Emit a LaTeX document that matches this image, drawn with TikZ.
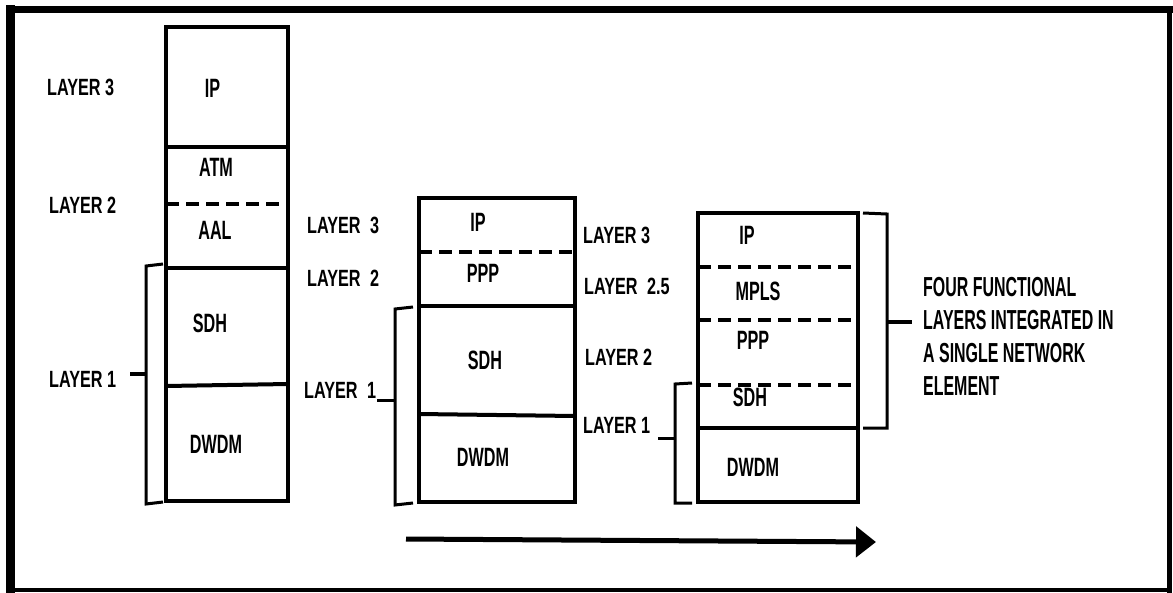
\documentclass[tikz,border=0pt]{standalone}
\usepackage{fontspec}
\setmainfont{Liberation Sans}
\newfontfamily\layerfont[FakeStretch=0.69]{Liberation Sans}
\newfontfamily\stackfont[FakeStretch=0.61]{Liberation Sans}
\newfontfamily\notefont[FakeStretch=0.58]{Liberation Sans}
\usetikzlibrary{arrows.meta}
\begin{document}
\begin{tikzpicture}[x=1pt,y=-1pt,
  lbl/.style={inner sep=0pt,font=\layerfont\fontsize{23.5}{30}\selectfont\bfseries},
  stk/.style={inner sep=0pt,font=\stackfont\fontsize{26.5}{30}\selectfont\bfseries},
  boxline/.style={line width=4pt},
  dashline/.style={line width=4pt,dash pattern=on 13pt off 7pt},
  brk/.style={line width=3pt},
  frame/.style={line cap=rect}]
\useasboundingbox (0,0) rectangle (1173,592);
% outer frame
\draw[frame,line width=9pt] (10.5,590) -- (10.5,9.5);
\draw[frame,line width=7pt] (10.5,9.5) -- (1169.5,9.5);
\draw[frame,line width=5pt] (1169.5,9.5) -- (1169.5,590);
\draw[frame,line width=4.5pt] (1169.5,590) -- (10.5,590);

% ---------- stack 1 ----------
\draw[boxline] (166,27) rectangle (288,501);
\draw[boxline] (166,147) -- (288,147);
\draw[dashline] (166,204) -- (288,204);
\draw[boxline] (166,268) -- (288,268);
\draw[boxline] (166,386) -- (288,384);
\node[stk] (s1ip) at (212.5,88) {IP};
\node[stk] (s1atm) at (216,167) {ATM};
\node[stk] (s1aal) at (215,230) {AAL};
\node[stk] (s1sdh) at (210,323) {SDH};
\node[stk] (s1dwdm) at (216,444) {DWDM};
\node[lbl,anchor=west] (l1a) at (47,87) {LAYER 3};
\node[lbl,anchor=west] (l1b) at (49,205) {LAYER 2};
\node[lbl,anchor=west] (l1c) at (49,379) {LAYER 1};
\draw[brk] (163,264) -- (146,266) -- (146,504) -- (163,502);
\draw[line width=4pt] (130,374) -- (146,374);

% ---------- stack 2 ----------
\draw[boxline] (419,198) rectangle (575,502);
\draw[dashline] (419,252) -- (575,252);
\draw[boxline] (419,306) -- (575,306);
\draw[boxline] (419,414) -- (575,416);
\node[stk] (s2ip) at (478,222) {IP};
\node[stk] (s2ppp) at (483,273) {PPP};
\node[stk] (s2sdh) at (485,360) {SDH};
\node[stk] (s2dwdm) at (483,457) {DWDM};
\node[lbl,anchor=west] (l2a) at (307,225) {LAYER\hspace{0.4em}3};
\node[lbl,anchor=west] (l2b) at (307,278) {LAYER\hspace{0.4em}2};
\node[lbl,anchor=west] (l2c) at (304,390) {LAYER\hspace{0.4em}1};
\draw[brk] (413,307) -- (395,309) -- (395,505) -- (413,503);
\draw[line width=3pt] (377,400) -- (395,400);
% right labels of stack 2
\node[lbl,anchor=west] (r2a) at (583,235) {LAYER 3};
\node[lbl,anchor=west] (r2b) at (584,286) {LAYER\hspace{0.4em}2.5};
\node[lbl,anchor=west] (r2c) at (585,357) {LAYER 2};
\node[lbl,anchor=west] (r2d) at (583,425) {LAYER 1};
\draw[brk] (692,383) -- (675,384) -- (675,503) -- (692,503);
\draw[line width=3pt] (658,438) -- (675,438);

% ---------- stack 3 ----------
\draw[boxline] (698,213) rectangle (858,502);
\draw[dashline] (698,267) -- (858,267);
\draw[dashline] (698,320) -- (858,320);
\draw[dashline] (698,385) -- (858,385);
\draw[boxline] (698,428) -- (858,428);
\node[stk] (s3ip) at (747,235) {IP};
\node[stk] (s3mpls) at (758,291) {MPLS};
\node[stk] (s3ppp) at (753,340) {PPP};
\node[stk] (s3sdh) at (750,397) {SDH};
\node[stk] (s3dwdm) at (753,467) {DWDM};
\draw[brk] (863,213) -- (887,214) -- (887,428) -- (863,428);
\draw[line width=4pt] (887,322) -- (912,322);
\node[inner sep=0pt,anchor=north west,align=left,
  font=\notefont\fontsize{27.5}{33}\selectfont\bfseries] (note) at (923,277)
  {FOUR FUNCTIONAL\\LAYERS INTEGRATED IN\\A SINGLE NETWORK\\ELEMENT};

% ---------- arrow ----------
\coordinate (a0) at (406,539);
\coordinate (a1) at (876,542);
\draw[line width=5pt,-{Triangle[length=20pt,width=30pt]}] (a0) -- (a1);
\end{tikzpicture}
\end{document}
